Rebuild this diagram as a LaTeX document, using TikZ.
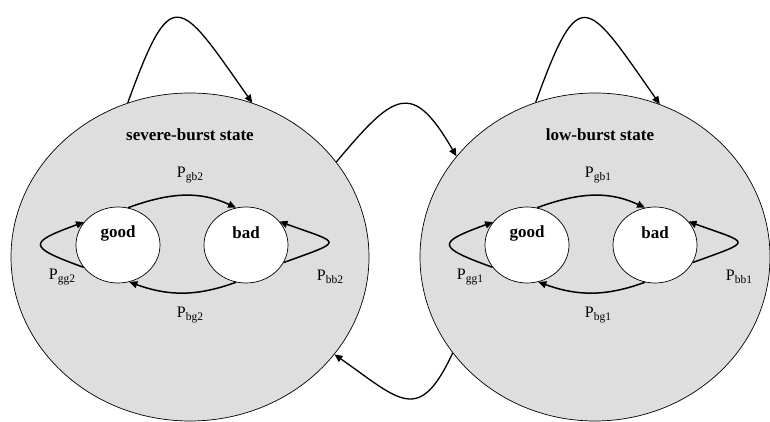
\documentclass[tikz,border=0pt]{standalone}
\usepackage{fontspec}
\setmainfont{Liberation Serif}
\usepackage{tikz}
\usetikzlibrary{shapes.geometric,arrows.meta,positioning,calc}

\newcommand{\ptrans}[1]{P\raisebox{-3pt}{\fontsize{11.5}{12}\selectfont #1}}

\tikzset{
  burst/.style={ellipse,draw,line width=0.7pt,fill=black!13,inner sep=0pt},
  chan/.style={ellipse,draw,line width=0.7pt,fill=white,minimum width=84pt,minimum height=76pt,inner sep=0pt},
  statename/.style={font=\fontsize{17}{20}\selectfont\bfseries},
  plabel/.style={font=\fontsize{16}{18}\selectfont},
  trans/.style={line width=1.5pt,-{Triangle[length=8pt,width=7pt]}},
  jump/.style={line width=1.3pt,-{Triangle[length=8pt,width=7pt]}}
}

\begin{document}
\begin{tikzpicture}[x=1pt,y=1pt]
  \useasboundingbox (0,0) rectangle (770,422);

  % outer burst states
  \node[burst,minimum width=358pt,minimum height=328pt] (sev) at (190,165) {};
  \node[burst,minimum width=350pt,minimum height=328pt] (low) at (595,165) {};

  \node[statename] (sevname) at (190,287) {severe-burst state};
  \node[statename] (lowname) at (600,287) {low-burst state};

  % inner channel states
  \node[chan,label={[statename,yshift=12pt]center:good}] (sevgood) at (118,177) {};
  \node[chan,label={[statename,yshift=12pt]center:bad}] (sevbad) at (246,177) {};
  \node[chan,label={[statename,yshift=12pt]center:good}] (lowgood) at (527,177) {};
  \node[chan,label={[statename,yshift=12pt]center:bad}] (lowbad) at (655,177) {};

  % transitions inside the severe-burst state
  \draw[trans] (sevgood.75) to[out=20,in=155] (sevbad.105);
  \draw[trans] (sevbad.255) to[out=200,in=340] (sevgood.287);
  \draw[trans] (sevgood.213) to[out=160,in=200,looseness=3.4] (sevgood.146);
  \draw[trans] (sevbad.335) to[out=20,in=340,looseness=4.1] (sevbad.35);

  \node[plabel] (pgb2) at (190,247) {\ptrans{gb2}};
  \node[plabel] (pbg2) at (190,107) {\ptrans{bg2}};
  \node[plabel] (pgg2) at (62,145) {\ptrans{gg2}};
  \node[plabel] (pbb2) at (330,145) {\ptrans{bb2}};

  % transitions inside the low-burst state
  \draw[trans] (lowgood.75) to[out=20,in=155] (lowbad.105);
  \draw[trans] (lowbad.255) to[out=200,in=340] (lowgood.287);
  \draw[trans] (lowgood.213) to[out=160,in=200,looseness=3.4] (lowgood.146);
  \draw[trans] (lowbad.335) to[out=20,in=340,looseness=4.1] (lowbad.35);

  \node[plabel] (pgb1) at (598,247) {\ptrans{gb1}};
  \node[plabel] (pbg1) at (598,107) {\ptrans{bg1}};
  \node[plabel] (pgg1) at (470,145) {\ptrans{gg1}};
  \node[plabel] (pbb1) at (739,145) {\ptrans{bb1}};

  % transitions between the burst states
  \draw[jump] (sev.112) to[out=70,in=125,looseness=2.65] (sev.68);
  \draw[jump] (low.111) to[out=70,in=125,looseness=2.65] (low.67);
  \draw[jump] (sev.33) to[out=50,in=120,looseness=1.9] (low.144);
  \draw[jump] (low.214) to[out=245,in=325,looseness=1.73] (sev.326);
\end{tikzpicture}
\end{document}
